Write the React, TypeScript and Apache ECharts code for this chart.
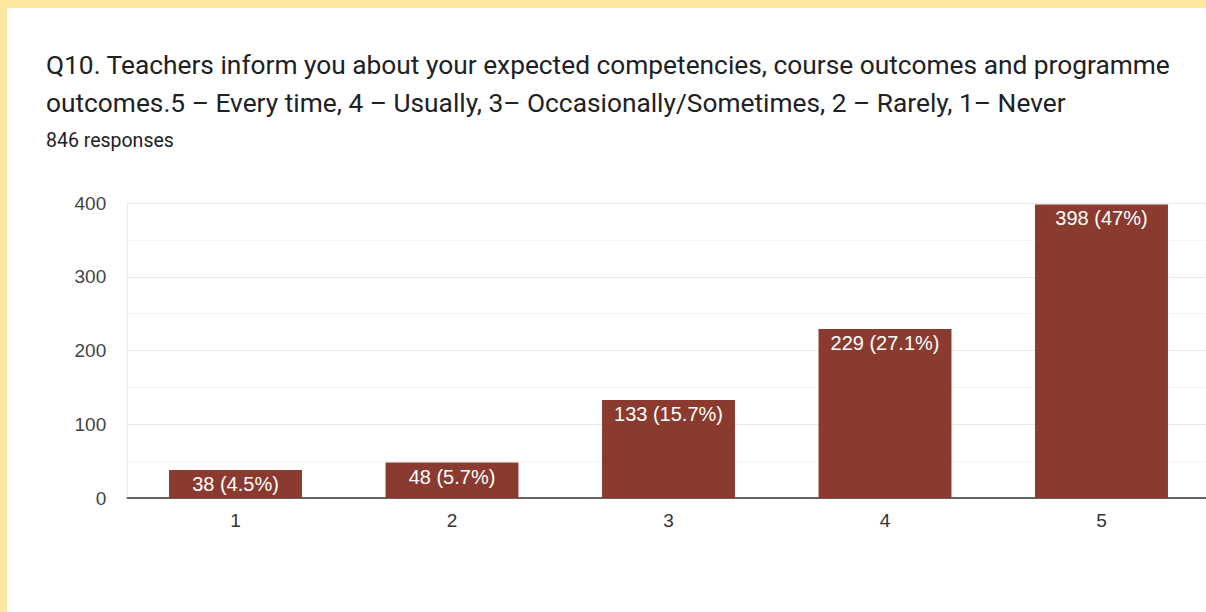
import React, { useEffect, useRef } from "react";
import * as echarts from "echarts";

const categories = ["1", "2", "3", "4", "5"];
const counts = [38, 48, 133, 229, 398];
const percents = ["4.5%", "5.7%", "15.7%", "27.1%", "47%"];
const yTicks = [0, 100, 200, 300, 400];
const titleLine1 = "Q10. Teachers inform you about your expected competencies, course outcomes and programme";
const titleLine2 = "outcomes.5 – Every time, 4 – Usually, 3– Occasionally/Sometimes, 2 – Rarely, 1– Never";
const responsesText = "846 responses";

export default function App() {
  const ref = useRef<HTMLDivElement>(null);
  useEffect(() => {
    if (!ref.current) return;
    const chart = echarts.init(ref.current, undefined, { renderer: "svg" });
    chart.setOption({
      animation: false,
      graphic: [
        {
          type: "text",
          left: 46,
          top: 52,
          style: { text: titleLine1, font: '26.3px Roboto', fill: "#202124" },
        },
        {
          type: "text",
          left: 46,
          top: 90,
          style: { text: titleLine2, font: '26.3px Roboto', fill: "#202124" },
        },
        {
          type: "text",
          left: 46,
          top: 130,
          style: { text: responsesText, font: '19.5px Roboto', fill: "#202124" },
        },
      ],
      grid: { left: 127.25, top: 203, bottom: 114, right: 10.25, containLabel: false },
      xAxis: {
        type: "category",
        data: categories,
        axisTick: { show: false },
        axisLine: { show: true, lineStyle: { color: "#333333", width: 1.5 } },
        axisLabel: { color: "#333333", fontSize: 19, fontFamily: "Liberation Sans, Arial", margin: 13 },
        splitLine: { show: false },
      },
      yAxis: {
        type: "value",
        min: yTicks[0],
        max: yTicks[yTicks.length - 1],
        interval: 100,
        axisLine: { show: true, lineStyle: { color: "#ebebeb", width: 1 } },
        axisTick: { show: false },
        axisLabel: { color: "#444444", fontSize: 19, fontFamily: "Liberation Sans, Arial", margin: 21 },
        splitLine: { show: true, lineStyle: { color: "#e6e6e6", width: 1 } },
        minorTick: { show: false, splitNumber: 2 },
        minorSplitLine: { show: true, lineStyle: { color: "#f4f4f4", width: 1 } },
      },
      series: [
        {
          type: "bar",
          data: counts,
          barWidth: "61.4%",
          itemStyle: { color: "#8a3a2e" },
          label: {
            show: true,
            position: "insideTop",
            distance: 4,
            color: "#ffffff",
            fontSize: 20,
            fontFamily: "Liberation Sans, Arial",
            formatter: (p: any) => `${counts[p.dataIndex]} (${percents[p.dataIndex]})`,
          },
        },
      ],
    });
    return () => chart.dispose();
  }, []);
  return (
    <div style={{ position: "fixed", left: 0, top: 0, width: 1206, height: 612, background: "#fde69d", overflow: "hidden" }}>
      <div style={{ position: "absolute", left: 7, top: 8, right: 0, bottom: 0, background: "#ffffff" }} />
      <div ref={ref} style={{ position: "absolute", left: 0, top: 0, width: 1220, height: 612 }} />
    </div>
  );
}
